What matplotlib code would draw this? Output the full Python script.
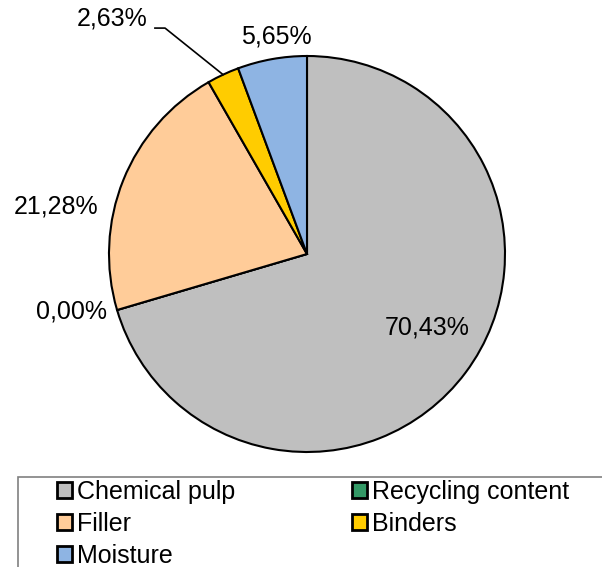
import matplotlib.pyplot as plt
import matplotlib.patches as mpatches

plt.rcParams['font.family'] = ['Liberation Sans', 'DejaVu Sans']

categories = ['Chemical pulp', 'Recycling content', 'Filler', 'Binders', 'Moisture']
shares = [70.43, 0.00, 21.28, 2.63, 5.65]
labels = ['70,43%', '0,00%', '21,28%', '2,63%', '5,65%']
colors = ['#BFBFBF', '#339966', '#FFCC99', '#FFCC00', '#8EB4E3']

W, H = 602, 567
fig = plt.figure(figsize=(W / 100, H / 100), dpi=100)

# pie axes: centre (307, 254) px, radius 198 px
ax = fig.add_axes([109 / W, (H - 452) / H, 396 / W, 396 / H])
wedges, _ = ax.pie(shares, colors=colors, startangle=90, counterclock=False,
                   radius=1, wedgeprops=dict(edgecolor='black', linewidth=1.5))
ax.set_xlim(-1, 1)
ax.set_ylim(-1, 1)
ax.set_aspect('equal')

fs = 18
label_pos = [(0.606, -0.369), (-1.187, -0.288), (-1.268, 0.242),
             (-0.985, 1.187), (-0.157, 1.096)]
for txt, pos in zip(labels, label_pos):
    ax.text(pos[0], pos[1], txt, fontsize=fs, ha='center', va='center', clip_on=False)

# leader line for the Binders label
ax.plot([-0.768, -0.717, -0.424], [1.141, 1.141, 0.906], color='black', lw=1.2,
        clip_on=False)

# legend frame, cut by the bottom/right edge
fig.patches.append(mpatches.Rectangle((18 / W, -0.1), 1.0, 0.1 + (H - 477) / H,
                                      transform=fig.transFigure, fill=False,
                                      edgecolor='#808080', lw=1.2))

handles = [mpatches.Patch(facecolor=c, edgecolor='black', lw=2) for c in colors]
order = [0, 2, 4, 1, 3]
fig.legend([handles[i] for i in order], [categories[i] for i in order],
           ncol=2, loc='upper left', bbox_to_anchor=(57 / W, (H - 480) / H),
           frameon=False, fontsize=fs, handlelength=0.6, handleheight=0.6,
           handletextpad=0.2, columnspacing=4.65, labelspacing=0.32,
           borderpad=0, borderaxespad=0)

fig.savefig('out.png', dpi=100)
